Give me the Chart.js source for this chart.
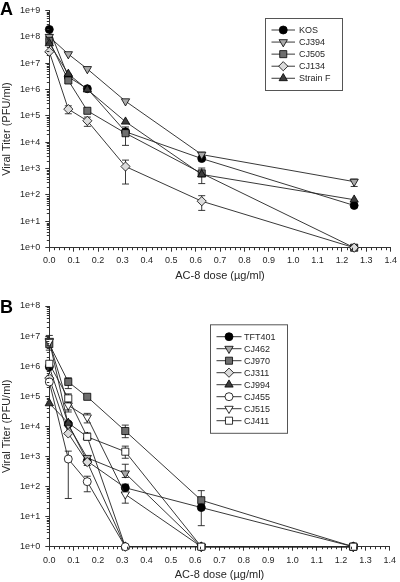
<!DOCTYPE html>
<html><head><meta charset="utf-8">
<script src="https://cdn.jsdelivr.net/npm/chart.js@4/dist/chart.umd.min.js"></script>
<style>
html,body{margin:0;padding:0;background:#fff;}
#wrap{position:relative;width:400px;height:582px;overflow:hidden;}
.panel{position:absolute;left:0;width:400px;}
#pa{top:0;height:290px;}
#pb{top:290px;height:292px;}
.lbl{position:absolute;font:bold 18px "Liberation Sans",Arial,sans-serif;color:#000;line-height:18px;}
</style></head>
<body>
<div id="wrap">
 <div class="panel" id="pa"><canvas id="ca" width="400" height="290"></canvas></div>
 <div class="panel" id="pb"><canvas id="cb" width="400" height="292"></canvas></div>
 <div class="lbl" style="left:0;top:0px">A</div>
 <div class="lbl" style="left:0;top:298px">B</div>
</div>
<script>
// ---------- data ----------
const doses = [0, 0.078, 0.156, 0.3125, 0.625, 1.25];
const xTickLabels = ['0.0','0.1','0.2','0.3','0.4','0.5','0.6','0.7','0.8','0.9','1.0','1.1','1.2','1.3','1.4'];
const yExpA = [0,1,2,3,4,5,6,7,8,9];
const yExpB = [0,1,2,3,4,5,6,7,8];
const xTitle = 'AC-8 dose (µg/ml)';
const yTitle = 'Viral Titer (PFU/ml)';

// Panel A
const namesA = ['KOS','CJ394','CJ505','CJ134','Strain F'];
const kos     = [1.9e8, 3.0e6, 1.07e6, 2.5e4, 2.4e3, 40];
const cj394   = [1.0e8, 2.2e7, 6.0e6, 3.6e5, 3.4e3, 3.2e2];
const cj505   = [7.0e7, 2.2e6, 1.56e5, 2.2e4, 6.6e2, 1];
const cj134   = [2.7e7, 1.8e5, 6.5e4, 1.2e3, 58, 1];
const strainF = [5.6e7, 3.9e6, 1.0e6, 6.0e4, 6.0e2, 66];
const kosLo     = [null, null, null, null, null, null];
const kosHi     = [null, null, null, null, null, null];
const cj394Lo   = [8.0e7, null, null, null, 2.6e3, 2.1e2];
const cj394Hi   = [1.2e8, null, null, null, 4.2e3, 4.0e2];
const cj505Lo   = [null, null, null, 7.6e3, 2.7e2, null];
const cj505Hi   = [null, null, null, 3.8e4, 1.05e3, null];
const cj134Lo   = [null, 1.2e5, 4.0e4, 2.6e2, 26, null];
const cj134Hi   = [null, 2.4e5, 9.0e4, 2.1e3, 94, null];
const strainFLo = [null, null, null, null, null, null];
const strainFHi = [null, null, null, null, null, null];

// Panel B
const namesB = ['TFT401','CJ462','CJ970','CJ311','CJ994','CJ455','CJ515','CJ411'];
const tft401 = [9.5e5, 1.2e4, 7.0e2, 91, 20, 1];
const cj462  = [7.0e6, 1.1e4, 9.0e2, 2.75e2, 1, 1];
const cj970  = [5.4e6, 3.0e5, 9.6e4, 7.0e3, 35, 1];
const cj311  = [4.0e5, 5.8e3, 6.5e2, 1, 1, 1];
const cj994  = [5.8e4, 1.3e4, 4.5e3, 1, 1, 1];
const cj455  = [3.0e5, 8.2e2, 1.45e2, 1, 1, 1];
const cj515  = [6.5e6, 5.0e4, 2.0e4, 55, 1, 1];
const cj411  = [1.2e6, 8.5e4, 4.5e3, 1.44e3, 1, 1];
const tft401Lo = [null, null, 5.0e2, 60, 5, null];
const tft401Hi = [null, null, 1.0e3, 120, 30, null];
const cj462Lo  = [3.4e6, null, null, 2.0e2, null, null];
const cj462Hi  = [1.05e7, null, null, 5.5e2, null, null];
const cj970Lo  = [null, 1.8e5, null, 4.2e3, 25, null];
const cj970Hi  = [null, 4.1e5, null, 1.1e4, 73, null];
const cj311Lo  = [null, null, null, null, null, null];
const cj311Hi  = [null, null, null, null, null, null];
const cj994Lo  = [null, null, null, null, null, null];
const cj994Hi  = [null, null, null, null, null, null];
const cj455Lo  = [null, 40, 67, null, null, null];
const cj455Hi  = [null, 1.5e3, 2.2e2, null, null, null];
const cj515Lo  = [null, 3.0e4, 1.3e4, 28, null, null];
const cj515Hi  = [null, 6.0e4, 2.7e4, 80, null, null];
const cj411Lo  = [null, 3.5e4, 3.5e3, 8.7e2, null, null];
const cj411Hi  = [null, 1.2e5, 6.0e3, 2.2e3, null, null];

// ---------- styles ----------
const FONT = '"Liberation Sans", Arial, sans-serif';
const TXT = '#262626';
const stylesA = [
  {shape:'circle', r:4, fill:'#000000'},
  {shape:'triangle', rot:180, r:4.8, fill:'#a9a9a9'},
  {shape:'rect', r:5, fill:'#6e6e6e'},
  {shape:'rectRot', r:4.6, fill:'#dcdcdc'},
  {shape:'triangle', r:4.8, fill:'#3c3c3c'}
];
const stylesB = [
  {shape:'circle', r:4, fill:'#000000'},
  {shape:'triangle', rot:180, r:4.8, fill:'#a9a9a9'},
  {shape:'rect', r:5, fill:'#6e6e6e'},
  {shape:'rectRot', r:4.6, fill:'#dcdcdc'},
  {shape:'triangle', r:4.8, fill:'#3c3c3c'},
  {shape:'circle', r:4, fill:'#ffffff'},
  {shape:'triangle', rot:180, r:4.8, fill:'#ffffff'},
  {shape:'rect', r:5, fill:'#ffffff'}
];

function drawMarker(ctx, ds, x, y) {
  const r = ds.pointRadius;
  let a = (ds.pointRotation || 0) * Math.PI / 180;
  ctx.beginPath();
  if (ds.pointStyle === 'circle') ctx.arc(x, y, r, 0, 2 * Math.PI);
  else if (ds.pointStyle === 'triangle') {
    ctx.moveTo(x + Math.sin(a) * r, y - Math.cos(a) * r);
    a += 2 * Math.PI / 3; ctx.lineTo(x + Math.sin(a) * r, y - Math.cos(a) * r);
    a += 2 * Math.PI / 3; ctx.lineTo(x + Math.sin(a) * r, y - Math.cos(a) * r);
    ctx.closePath();
  } else if (ds.pointStyle === 'rect') {
    const s = r * Math.SQRT1_2; ctx.rect(x - s, y - s, 2 * s, 2 * s);
  } else {
    ctx.moveTo(x, y - r); ctx.lineTo(x + r, y); ctx.lineTo(x, y + r); ctx.lineTo(x - r, y); ctx.closePath();
  }
  ctx.fillStyle = ds.pointBackgroundColor; ctx.fill();
  ctx.strokeStyle = ds.pointBorderColor; ctx.lineWidth = ds.pointBorderWidth; ctx.stroke();
}

const errorBars = {
  id: 'errorBars',
  beforeDatasetsDraw(chart) {
    const {ctx, scales: {x, y}} = chart;
    ctx.save(); ctx.strokeStyle = '#222'; ctx.lineWidth = 0.9;
    chart.data.datasets.forEach(ds => {
      if (!ds.errLo) return;
      ds.data.forEach((p, j) => {
        const lo = ds.errLo[j], hi = ds.errHi[j];
        if (lo == null || hi == null) return;
        const px = x.getPixelForValue(p.x), y1 = y.getPixelForValue(lo), y2 = y.getPixelForValue(hi);
        ctx.beginPath();
        ctx.moveTo(px, y1); ctx.lineTo(px, y2);
        ctx.moveTo(px - 3.5, y1); ctx.lineTo(px + 3.5, y1);
        ctx.moveTo(px - 3.5, y2); ctx.lineTo(px + 3.5, y2);
        ctx.stroke();
      });
    });
    ctx.restore();
  }
};

const minorTicks = {
  id: 'minorTicks',
  afterDraw(chart) {
    const {ctx, scales: {x, y}} = chart;
    ctx.save(); ctx.strokeStyle = '#333'; ctx.lineWidth = 1;
    ctx.beginPath();
    for (let k = 0; k <= 70; k++) {
      if (k % 5 === 0) continue;
      const px = Math.round(x.getPixelForValue(k * 0.02)) + 0.5;
      ctx.moveTo(px, x.top); ctx.lineTo(px, x.top + 2.5);
    }
    const eMax = Math.round(Math.log10(y.max));
    for (let e = 0; e < eMax; e++) for (let m = 2; m <= 9; m++) {
      const py = Math.round(y.getPixelForValue(m * Math.pow(10, e))) + 0.5;
      ctx.moveTo(y.right - 2.5, py); ctx.lineTo(y.right, py);
    }
    ctx.stroke(); ctx.restore();
  }
};

const boxLegend = {
  id: 'boxLegend',
  afterDraw(chart, args, o) {
    const ctx = chart.ctx; ctx.save();
    ctx.strokeStyle = '#555'; ctx.lineWidth = 1;
    ctx.strokeRect(o.x + 0.5, o.y + 0.5, o.w, o.h);
    chart.data.datasets.forEach((ds, i) => {
      const yy = o.y0 + i * o.step;
      ctx.strokeStyle = '#222'; ctx.lineWidth = 0.9;
      ctx.beginPath(); ctx.moveTo(o.lx1, yy); ctx.lineTo(o.lx2, yy); ctx.stroke();
      drawMarker(ctx, ds, (o.lx1 + o.lx2) / 2, yy);
      ctx.fillStyle = TXT; ctx.font = '9px ' + FONT; ctx.textBaseline = 'middle'; ctx.textAlign = 'left';
      ctx.fillText(ds.label, o.tx, yy + 0.5);
    });
    ctx.restore();
  }
};

function makeChart(canvas, names, values, lows, highs, styles, yExps, L) {
  const n = names.length;
  const datasets = names.map((nm, i) => ({
    label: nm,
    data: doses.map((d, j) => ({x: d, y: values[i][j]})),
    errLo: lows[i], errHi: highs[i],
    borderColor: '#222', borderWidth: 0.9,
    pointStyle: styles[i].shape, pointRotation: styles[i].rot || 0,
    pointRadius: styles[i].r, pointHoverRadius: styles[i].r,
    pointBackgroundColor: styles[i].fill, pointBorderColor: '#000', pointBorderWidth: 0.8,
    tension: 0, fill: false, clip: false, order: n - i
  }));
  const tickFont = {family: FONT, size: 9};
  const titleFont = {family: FONT, size: 11};
  return new Chart(canvas, {
    type: 'line',
    data: {datasets},
    options: {
      responsive: false, animation: false, events: [],
      layout: {padding: {left: 0, right: 6.5, top: L.top, bottom: 0}},
      plugins: {legend: {display: false}, tooltip: {enabled: false}, boxLegend: L.legend},
      scales: {
        x: {
          type: 'linear', min: 0, max: 1.4,
          afterBuildTicks: s => { s.ticks = xTickLabels.map(t => ({value: parseFloat(t)})); },
          ticks: {callback: (v, i) => xTickLabels[i], font: tickFont, color: TXT, padding: L.xpad, maxRotation: 0, autoSkip: false},
          grid: {display: true, drawOnChartArea: false, drawTicks: true, tickLength: 4, tickColor: '#333', tickWidth: 1},
          border: {display: true, color: '#333', width: 1},
          title: {display: true, text: xTitle, font: titleFont, color: TXT, padding: {top: 0, bottom: L.tpb}},
          afterFit: s => { s.height = L.xh; }
        },
        y: {
          type: 'logarithmic', min: 1, max: Math.pow(10, yExps[yExps.length - 1]),
          afterBuildTicks: s => { s.ticks = yExps.map(e => ({value: Math.pow(10, e)})); },
          ticks: {callback: (v, i) => '1e+' + yExps[i], font: tickFont, color: TXT, padding: 5, autoSkip: false},
          grid: {display: true, drawOnChartArea: false, drawTicks: true, tickLength: 4, tickColor: '#333', tickWidth: 1},
          border: {display: true, color: '#333', width: 1},
          title: {display: true, text: yTitle, font: titleFont, color: TXT, padding: {top: 0, bottom: 0}},
          afterFit: s => { s.width = 49.3; }
        }
      }
    },
    plugins: [errorBars, minorTicks, boxLegend]
  });
}

makeChart(document.getElementById('ca'), namesA,
  [kos, cj394, cj505, cj134, strainF],
  [kosLo, cj394Lo, cj505Lo, cj134Lo, strainFLo],
  [kosHi, cj394Hi, cj505Hi, cj134Hi, strainFHi],
  stylesA, yExpA,
  {top: 7.5, xh: 42.3, xpad: 3, tpb: 7.4,
   legend: {x: 265, y: 18, w: 77, h: 72, y0: 30, step: 12.07, lx1: 271.5, lx2: 295, tx: 299}});

makeChart(document.getElementById('cb'), namesB,
  [tft401, cj462, cj970, cj311, cj994, cj455, cj515, cj411],
  [tft401Lo, cj462Lo, cj970Lo, cj311Lo, cj994Lo, cj455Lo, cj515Lo, cj411Lo],
  [tft401Hi, cj462Hi, cj970Hi, cj311Hi, cj994Hi, cj455Hi, cj515Hi, cj411Hi],
  stylesB, yExpB,
  {top: 16, xh: 35.3, xpad: 4, tpb: 0,
   legend: {x: 210, y: 34.3, w: 77, h: 108.5, y0: 46.7, step: 12, lx1: 216.5, lx2: 241.5, tx: 244}});
</script>
</body></html>
